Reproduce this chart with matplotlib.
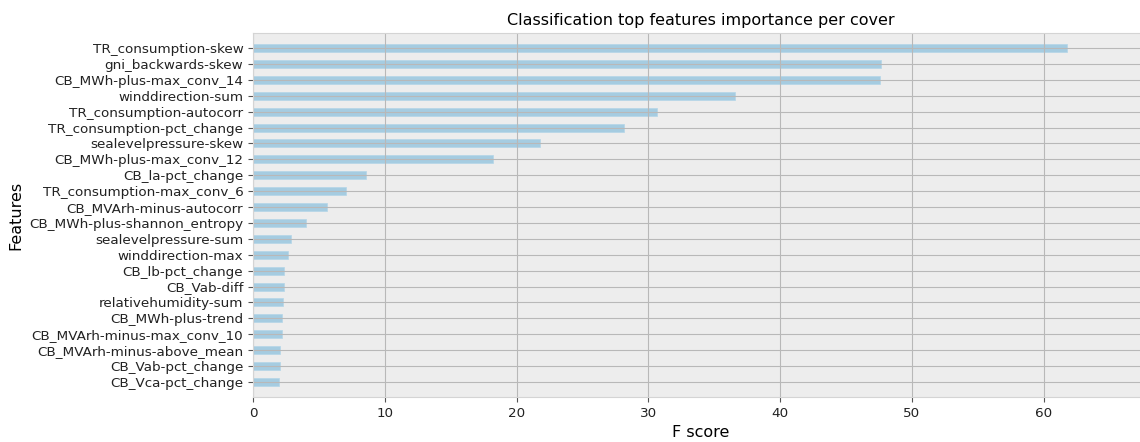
import numpy as np
import matplotlib
matplotlib.use("Agg")
import matplotlib.pyplot as plt

# top features by cover, lowest first so the biggest ends up on top
features = [
    "CB_Vca-pct_change", "CB_Vab-pct_change", "CB_MVArh-minus-above_mean",
    "CB_MVArh-minus-max_conv_10", "CB_MWh-plus-trend", "relativehumidity-sum",
    "CB_Vab-diff", "CB_lb-pct_change", "winddirection-max",
    "sealevelpressure-sum", "CB_MWh-plus-shannon_entropy",
    "CB_MVArh-minus-autocorr", "TR_consumption-max_conv_6", "CB_la-pct_change",
    "CB_MWh-plus-max_conv_12", "sealevelpressure-skew",
    "TR_consumption-pct_change", "TR_consumption-autocorr", "winddirection-sum",
    "CB_MWh-plus-max_conv_14", "gni_backwards-skew", "TR_consumption-skew",
]
scores = [
    1.98, 2.08, 2.08, 2.18, 2.18, 2.28, 2.38, 2.38, 2.68, 2.89, 4.0,
    5.62, 7.04, 8.56, 18.21, 21.76, 28.14, 30.67, 36.57, 47.55, 47.65, 61.75,
]

fig = plt.figure(figsize=(11.4, 4.42), dpi=100)
ax = fig.add_axes([253 / 1140, 45 / 442, 895 / 1140, 364 / 442])
ax.set_facecolor("#ededed")

y = np.arange(len(features))
ax.barh(y, scores, height=0.5, color="#a5cce1", edgecolor="#b4d6e8", linewidth=0.5)

ax.set_yticks(y)
ax.set_yticklabels(features, fontsize=9.7, color="#222222")
ax.set_xticks(np.arange(0, 70, 10))
ax.tick_params(axis="x", labelsize=9.7, colors="#222222")
ax.tick_params(axis="both", color="#555555", length=3.5, width=0.8)
ax.set_xlim(0, max(scores) * 1.1)
ax.set_ylim(-0.95, len(features) - 0.05)

ax.grid(True, color="#b8b8b8", linewidth=0.8)
ax.set_axisbelow("line")
for s in ax.spines.values():
    s.set_color("#d4d4d4")
    s.set_linewidth(0.8)

ax.set_title("Classification top features importance per cover", fontsize=11.5, pad=6)
ax.set_xlabel("F score", fontsize=11.5, labelpad=4)
ax.set_ylabel("Features", fontsize=11.5)

fig.savefig("out.png", dpi=100)
